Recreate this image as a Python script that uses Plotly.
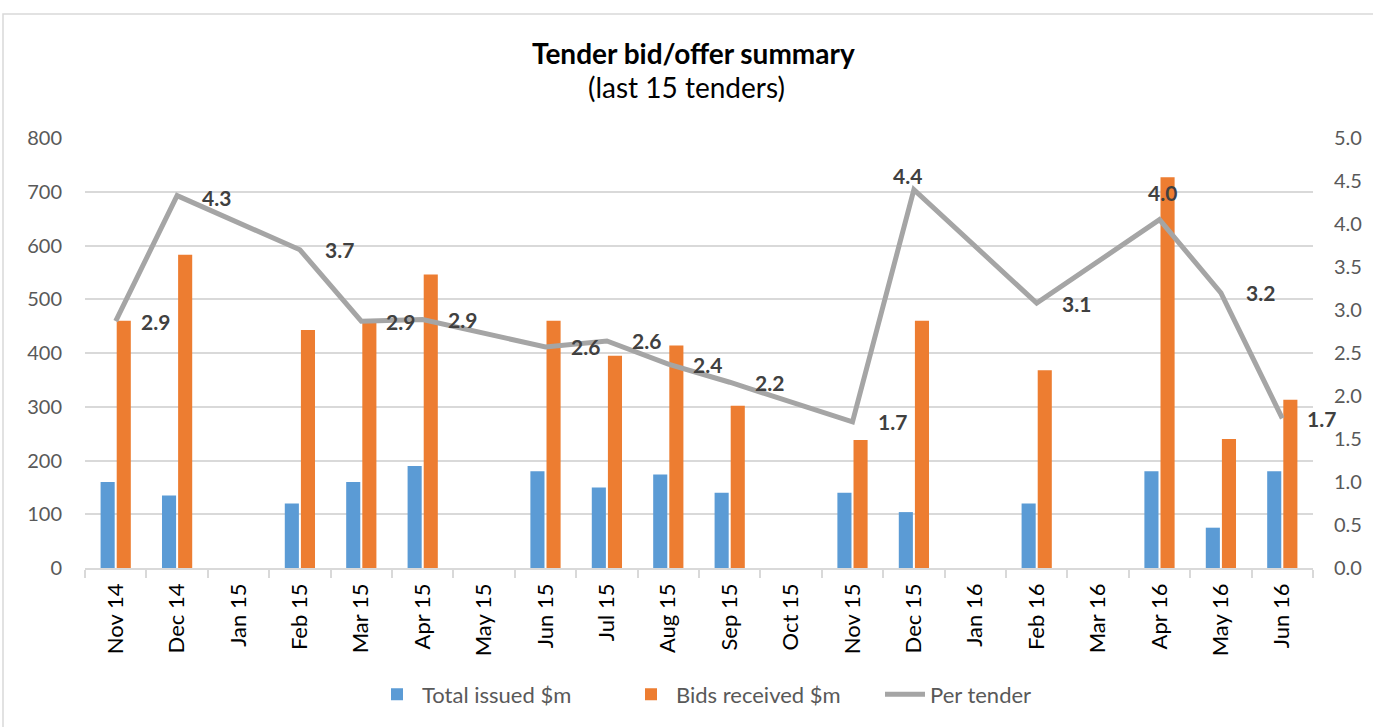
import plotly.graph_objects as go

# ---- data ----
months = ["Nov 14", "Dec 14", "Jan 15", "Feb 15", "Mar 15", "Apr 15", "May 15",
          "Jun 15", "Jul 15", "Aug 15", "Sep 15", "Oct 15", "Nov 15", "Dec 15",
          "Jan 16", "Feb 16", "Mar 16", "Apr 16", "May 16", "Jun 16"]
total_issued = [160, 135, None, 120, 160, 190, None, 180, 150, 174, 140, None,
                140, 104, None, 120, None, 180, 75, 180]
bids_received = [460, 583, None, 443, 457, 546, None, 460, 395, 414, 302, None,
                 238, 460, None, 368, None, 727, 240, 313]
per_tender = [2.87, 4.33, None, 3.70, 2.87, 2.89, None, 2.57, 2.64, 2.37, 2.16, None,
              1.70, 4.40, None, 3.08, None, 4.05, 3.20, 1.74]
left_ticks = list(range(0, 801, 100))
right_ticks = [i / 2 for i in range(0, 11)]

# ---- styles ----
FONT = "Lato, 'Open Sans', sans-serif"
BLUE = "#5b9bd5"
ORANGE = "#ed7d31"
GREY = "#a5a5a5"
GRID = "#d9d9d9"
# label offsets (x shift px, y shift px, anchor) for special labels
label_offsets = {"Dec 15": (-6, 14, "center"), "Apr 16": (3, 27, "center"),
                 "Dec 14": (23, -2, "left")}

fig = go.Figure()
fig.add_trace(go.Bar(x=months, y=total_issued, name="Total issued $m",
                     marker=dict(color=BLUE, line=dict(width=0))))
fig.add_trace(go.Bar(x=months, y=bids_received, name="Bids received $m",
                     marker=dict(color=ORANGE, line=dict(width=0))))
fig.add_trace(go.Scatter(x=months, y=per_tender, name="Per tender", yaxis="y2",
                         mode="lines", connectgaps=True,
                         line=dict(color=GREY, width=5)))

annotations = []
for m, r in zip(months, per_tender):
    if r is None:
        continue
    xs, ys, anc = label_offsets.get(m, (23, 0, "left"))
    annotations.append(dict(x=m, y=r, xref="x", yref="y2", text=f"{r:.1f}",
                            showarrow=False, xanchor=anc, yanchor="middle",
                            xshift=xs, yshift=ys,
                            font=dict(family=FONT, size=21, color="#404040", weight="bold")))

annotations.append(dict(x=(686 - 85) / 1228, y=(570 - 87) / 432, xref="paper", yref="paper",
                        text="(last 15 tenders)", showarrow=False,
                        xanchor="center", yanchor="middle",
                        font=dict(family=FONT, size=28, color="#000000")))

fig.update_layout(
    width=1373, height=727,
    margin=dict(l=85, r=60, t=138, b=157),
    paper_bgcolor="white", plot_bgcolor="white",
    title=dict(text="<b>Tender bid/offer summary</b>", x=0.505, xanchor="center",
               y=1 - 54 / 727, yanchor="middle",
               font=dict(family=FONT, size=28, color="#000000")),
    barmode="group", bargap=0.475, bargroupgap=0.125,
    xaxis=dict(type="category", categoryorder="array", categoryarray=months,
               range=[-0.5, len(months) - 0.5], autorange=False,
               tickangle=-90, ticks="outside", tickson="boundaries", ticklen=8,
               tickcolor=GRID, tickwidth=1.5, showline=True, linecolor=GRID,
               linewidth=1.5, showgrid=False, ticklabelstandoff=5,
               tickfont=dict(family=FONT, size=22, color="#000000")),
    yaxis=dict(range=[0, 800], autorange=False, tickvals=left_ticks, showgrid=True,
               gridcolor=GRID, gridwidth=1.5, zeroline=False, showline=False, ticks="",
               ticklabelstandoff=22,
               tickfont=dict(family=FONT, size=20, color="#595959")),
    yaxis2=dict(range=[0, 5], autorange=False, tickvals=right_ticks, tickformat=".1f",
                overlaying="y", side="right", showgrid=False, zeroline=False,
                showline=False, ticks="", ticklabelstandoff=20,
                tickfont=dict(family=FONT, size=20, color="#595959")),
    legend=dict(orientation="h", x=(372 - 85) / 1228, xanchor="left", y=-127 / 432,
                yanchor="middle", font=dict(family=FONT, size=22, color="#595959"),
                itemwidth=40, traceorder="normal", entrywidth=199),
    annotations=annotations,
    shapes=[dict(type="rect", xref="paper", yref="paper",
                 x0=(3 - 85) / 1228, x1=(1400 - 85) / 1228,
                 y0=(570 - 760) / 432, y1=(570 - 13.5) / 432,
                 line=dict(color=GRID, width=1.5), layer="below")],
    showlegend=True,
)

fig.write_html("out.html", config={"displayModeBar": False},
               post_script="document.body.style.margin='0';")
